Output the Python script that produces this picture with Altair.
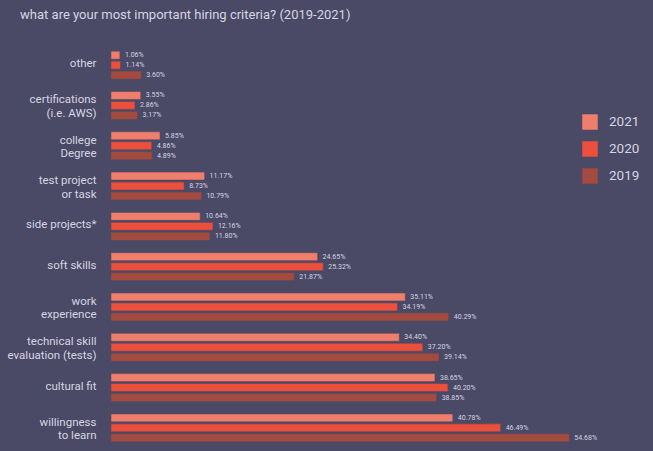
import altair as alt
import pandas as pd

categories = [
    "other",
    "certifications|(i.e. AWS)",
    "college|Degree",
    "test project|or task",
    "side projects*",
    "soft skills",
    "work|experience",
    "technical skill|evaluation (tests)",
    "cultural fit",
    "willingness|to learn",
]
years = ["2021", "2020", "2019"]
v2021 = [1.06, 3.55, 5.85, 11.17, 10.64, 24.65, 35.11, 34.40, 38.65, 40.78]
v2020 = [1.14, 2.86, 4.86, 8.73, 12.16, 25.32, 34.19, 37.20, 40.20, 46.49]
v2019 = [3.60, 3.17, 4.89, 10.79, 11.80, 21.87, 40.29, 39.14, 38.85, 54.68]
colors = ["#F07E6C", "#EC4F3C", "#A44B40"]

rows = []
for yr, vals in zip(years, [v2021, v2020, v2019]):
    for c, v in zip(categories, vals):
        rows.append({"criterion": c, "year": yr, "value": v})
df = pd.DataFrame(rows)

bg = "#4A4966"
txt = "#D6D5E2"
font = "Roboto"

base = alt.Chart(df).encode(
    y=alt.Y("criterion:N", sort=categories,
            scale=alt.Scale(paddingInner=0, paddingOuter=0),
            axis=alt.Axis(title=None, domain=False, ticks=False, grid=False,
                          labelExpr="split(datum.label, '|')",
                          labelFontSize=11.5, labelColor=txt, labelFont=font,
                          labelPadding=15, labelLineHeight=13.5,
                          labelOffset={"condition": {"test": "indexof(datum.value, '|') >= 0", "value": -5}, "value": -1},
                          labelLimit=200)),
    yOffset=alt.YOffset("year:N", sort=years,
                        scale=alt.Scale(paddingInner=0.2, paddingOuter=0.62)),
)

bars = base.mark_bar(stroke="#5A4A5E", strokeWidth=0.6).encode(
    x=alt.X("value:Q", scale=alt.Scale(domain=[0, 55], nice=False),
            axis=None),
    color=alt.Color("year:N", sort=years,
                    scale=alt.Scale(domain=years, range=colors),
                    legend=alt.Legend(title=None, orient="none",
                                      legendX=471, legendY=69,
                                      symbolType="square", symbolSize=240,
                                      symbolStrokeWidth=0,
                                      labelFontSize=13.5, labelColor=txt,
                                      labelFont=font, labelOffset=11,
                                      rowPadding=11)),
)

labels = base.mark_text(align="left", baseline="middle", dx=5,
                        fontSize=7, color=txt, font=font).encode(
    x=alt.X("value:Q"),
    text=alt.Text("label:N"),
).transform_calculate(label="format(datum.value, '.2f') + '%'")

chart = (bars + labels).properties(
    width=461, height=403,
    background=bg,
    padding={"left": 111, "top": 45, "right": 81, "bottom": 3},
    autosize=alt.AutoSizeParams(type="none"),
    title=alt.TitleParams(
        "what are your most important hiring criteria? (2019-2021)",
        anchor="start", dx=13, offset=23, fontSize=13,
        fontWeight="normal", color=txt, font=font),
).configure_view(stroke=None)

chart.save("out.html", embed_options={"renderer": "svg", "actions": False})
